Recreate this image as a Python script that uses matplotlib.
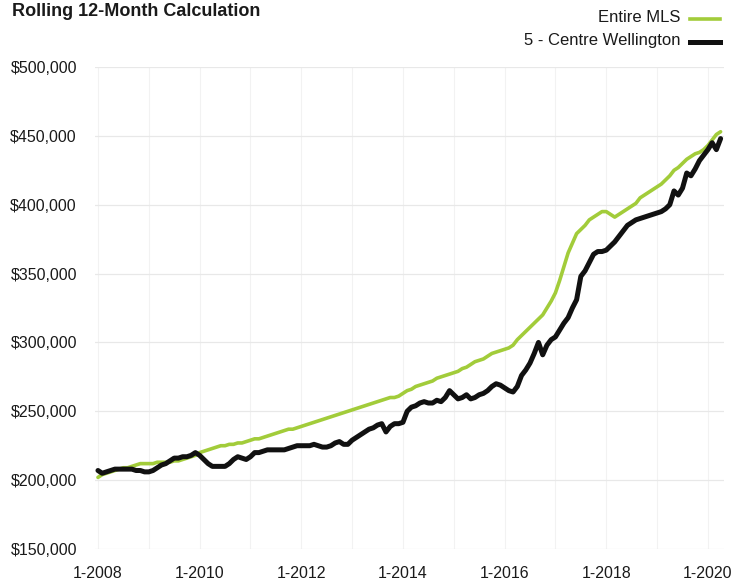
import matplotlib
matplotlib.use('Agg')
import matplotlib.pyplot as plt
from matplotlib import font_manager
from matplotlib.lines import Line2D

# pick a narrow font if we have one
names = {f.name for f in font_manager.fontManager.ttflist}
font = 'Liberation Sans Narrow' if 'Liberation Sans Narrow' in names else 'Liberation Sans'
plt.rcParams['font.family'] = [font, 'DejaVu Sans']

# monthly values, 1-2008 .. 4-2020 (thousands of $)
entire_mls = [
    202, 204, 205, 206, 207, 208, 209, 209, 210, 211, 212, 212,
    212, 212, 213, 213, 213, 213, 214, 214, 215, 216, 217, 218,
    220, 221, 222, 223, 224, 225, 225, 226, 226, 227, 227, 228,
    229, 230, 230, 231, 232, 233, 234, 235, 236, 237, 237, 238,
    239, 240, 241, 242, 243, 244, 245, 246, 247, 248, 249, 250,
    251, 252, 253, 254, 255, 256, 257, 258, 259, 260, 260, 261,
    263, 265, 266, 268, 269, 270, 271, 272, 274, 275, 276, 277,
    278, 279, 281, 282, 284, 286, 287, 288, 290, 292, 293, 294,
    295, 296, 298, 302, 305, 308, 311, 314, 317, 320, 325, 330,
    336, 345, 355, 365, 372, 379, 382, 385, 389, 391, 393, 395,
    395, 393, 391, 393, 395, 397, 399, 401, 405, 407, 409, 411,
    413, 415, 418, 421, 425, 427, 430, 433, 435, 437, 438, 440,
    443, 447, 451, 453,
]
centre_wellington = [
    207, 205, 206, 207, 208, 208, 208, 208, 208, 207, 207, 206,
    206, 207, 209, 211, 212, 214, 216, 216, 217, 217, 218, 220,
    218, 215, 212, 210, 210, 210, 210, 212, 215, 217, 216, 215,
    217, 220, 220, 221, 222, 222, 222, 222, 222, 223, 224, 225,
    225, 225, 225, 226, 225, 224, 224, 225, 227, 228, 226, 226,
    229, 231, 233, 235, 237, 238, 240, 241, 235, 239, 241, 241,
    242, 250, 253, 254, 256, 257, 256, 256, 258, 257, 260, 265,
    262, 259, 260, 262, 259, 260, 262, 263, 265, 268, 270, 269,
    267, 265, 264, 268, 276, 280, 285, 292, 300, 291, 298, 302,
    304, 309, 314, 318, 325, 331, 348, 352, 358, 364, 366, 366,
    367, 370, 373, 377, 381, 385, 387, 389, 390, 391, 392, 393,
    394, 395, 397, 400, 410, 407, 412, 423, 421, 426, 432, 436,
    440, 445, 440, 448,
]
tick_labels = ['1-2008', '1-2010', '1-2012', '1-2014', '1-2016', '1-2018', '1-2020']

months = list(range(len(entire_mls)))
mls = [v * 1000 for v in entire_mls]
cw = [v * 1000 for v in centre_wellington]

fig = plt.figure(figsize=(7.41, 5.87), dpi=100)
ax = fig.add_axes([95 / 741, 1 - 549 / 587, 629 / 741, 482 / 587])

ax.plot(months, mls, color='#a2cc3a', lw=2.6, solid_capstyle='round', zorder=3)
ax.plot(months, cw, color='#111111', lw=3.6, solid_capstyle='round', zorder=4)

ax.set_xlim(-0.7, 147.8)
ax.set_ylim(150000, 500000)
ax.set_yticks(range(150000, 500001, 50000))
ax.set_yticklabels(['${:,}'.format(v) for v in range(150000, 500001, 50000)])
ax.set_xticks(range(0, 145, 24))
ax.set_xticklabels(tick_labels)
ax.set_xticks(range(0, 145, 12), minor=True)

for s in ax.spines.values():
    s.set_visible(False)
ax.tick_params(axis='both', which='both', length=0, labelsize=11.5, colors='#1a1a1a')
ax.tick_params(axis='y', pad=13)
ax.tick_params(axis='x', pad=12)
ax.grid(axis='y', color='#e8e8e8', lw=0.9)
ax.grid(axis='x', which='both', color='#f2f2f2', lw=0.8)
ax.set_axisbelow(True)

fig.text(12 / 741, 1 - 12 / 587, 'Rolling 12-Month Calculation', fontsize=13,
         fontweight='bold', va='center', ha='left', color='#1a1a1a')

# legend drawn by hand, text right-aligned with line to the right
fig.text(680 / 741, 1 - 18 / 587, 'Entire MLS', fontsize=12, ha='right', va='center', color='#1a1a1a')
fig.text(680 / 741, 1 - 41 / 587, '5 - Centre Wellington', fontsize=12, ha='right', va='center', color='#1a1a1a')
fig.add_artist(Line2D([690 / 741, 720 / 741], [1 - 19 / 587, 1 - 19 / 587], color='#a2cc3a', lw=2.6))
fig.add_artist(Line2D([690 / 741, 720 / 741], [1 - 42 / 587, 1 - 42 / 587], color='#111111', lw=3.6))

fig.savefig('out.png', dpi=100)
